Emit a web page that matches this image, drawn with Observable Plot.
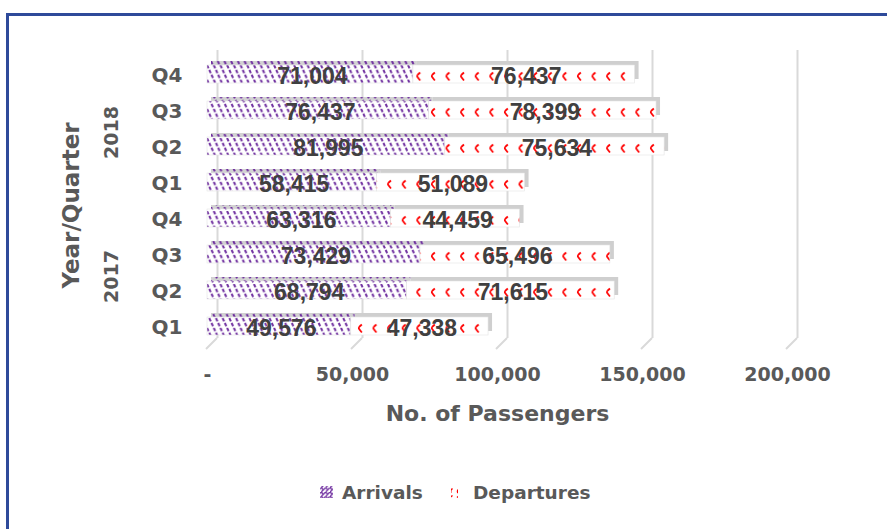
<!DOCTYPE html>
<html><head><meta charset="utf-8">
<script src="https://cdn.jsdelivr.net/npm/d3@7"></script>
<script src="https://cdn.jsdelivr.net/npm/@observablehq/plot@0.6"></script>
<style>
html,body{margin:0;padding:0;background:#fff;overflow:hidden;}
#wrap{position:relative;width:887px;height:529px;overflow:hidden;background:#fff;}
#fl{position:absolute;left:6px;top:13px;width:2.5px;height:516px;background:#2E4A9A;}
#ft{position:absolute;left:6px;top:13px;width:881px;height:2.5px;background:#2E4A9A;}
#chart{position:absolute;left:0;top:0;}
#legend{position:absolute;left:0;top:470px;}
</style></head>
<body><div id="wrap"><div id="fl"></div><div id="ft"></div><div id="chart"></div><div id="legend"></div></div>
<script>
// ---- data ----
const periods = ["2018 Q4","2018 Q3","2018 Q2","2018 Q1","2017 Q4","2017 Q3","2017 Q2","2017 Q1"];
const arrivals   = [71004, 76437, 81995, 58415, 63316, 73429, 68794, 49576];
const departures = [76437, 78399, 75634, 51089, 44459, 65496, 71615, 47338];
const seriesNames = ["Arrivals", "Departures"];
const xTicks = [0, 50000, 100000, 150000, 200000];
const years = [{year: "2018", at: "2018 Q3"}, {year: "2017", at: "2017 Q3"}];
const yTitle = "Year/Quarter";
const xTitle = "No. of Passengers";

const table = [];
periods.forEach((p, i) => {
  table.push({period: p, series: "Arrivals", value: arrivals[i]});
  table.push({period: p, series: "Departures", value: departures[i]});
});

const fmt = d3.format(",");
const grey = "#595959";

const plot = Plot.plot({
  width: 887, height: 460,
  marginLeft: 207, marginRight: 100, marginTop: 56, marginBottom: 116,
  style: {background: "transparent", overflow: "visible"},
  x: {domain: [0, 200000], axis: null},
  y: {domain: periods, axis: null, paddingInner: 0.5, paddingOuter: 0.25},
  color: {
    domain: ["Arrivals", "Departures", "Arrivals top", "Departures top"],
    range: ["url(#pArr)", "url(#pDep)", "url(#sArr)", "url(#sDep)"]
  },
  marks: [
    Plot.ruleX(xTicks, {x: d => d, stroke: "#d9d9d9", strokeWidth: 2, dx: 10, dy: -6}),
    Plot.barX(table, {x: "value", y: "period", fill: d => d.series + " top", dx: 4, dy: -4}),
    Plot.barX(table, {x: "value", y: "period", fill: "series", stroke: "#e3e3e3", strokeWidth: 0.6}),
    Plot.text(table, Plot.stackX({x: "value", y: "period", text: d => fmt(d.value),
      fontSize: 23, fontWeight: "bold", fill: "#404040", fontFamily: "Liberation Sans", dx: 2, dy: 2})),
    Plot.text(periods, {y: d => d, text: d => d.split(" ")[1], frameAnchor: "left", textAnchor: "end",
      dx: -25, dy: 1, fontSize: 20, fontWeight: "bold", fill: grey, fontFamily: "DejaVu Sans"}),
    Plot.text(years, {y: "at", text: "year", frameAnchor: "left", textAnchor: "middle", dx: -96, dy: 22, rotate: -90,
      fontSize: 19, fontWeight: "bold", fill: grey, fontFamily: "DejaVu Sans"}),
    Plot.text([yTitle], {text: d => d, frameAnchor: "left", textAnchor: "middle", dx: -136, dy: 5, rotate: -90,
      fontSize: 23, fontWeight: "bold", fill: grey, fontFamily: "DejaVu Sans"}),
    Plot.text(xTicks, {x: d => d, text: d => d === 0 ? "-" : fmt(d), frameAnchor: "bottom", dy: 36,
      fontSize: 19, fontWeight: "bold", fill: grey, fontFamily: "DejaVu Sans"}),
    Plot.text([xTitle], {text: d => d, frameAnchor: "bottom", dy: 76,
      fontSize: 22, fontWeight: "bold", fill: grey, fontFamily: "DejaVu Sans"})
  ]
});
document.getElementById("chart").appendChild(plot);

// scales for pattern alignment and floor decoration
const xs = plot.scale("x"), ys = plot.scale("y");
const xApply = xs.apply ? v => xs.apply(v) : d3.scaleLinear(xs.domain, xs.range);
const yApply = ys.apply ? v => ys.apply(v) : d3.scaleBand(ys.domain, ys.range).paddingInner(0.5).paddingOuter(0.25);
const x0 = xApply(0);
const bandTop = yApply(periods[0]);
const step = yApply(periods[1]) - bandTop;
const frameBottom = ys.range ? Math.max(...ys.range) : 344;

const svg = d3.select(plot);
const defs = svg.insert("defs", ":first-child");
function stripes(id, bg) {
  const w = 6.7, h = 14.6;
  const p = defs.append("pattern").attr("id", id).attr("patternUnits", "userSpaceOnUse")
    .attr("x", x0).attr("y", bandTop).attr("width", w).attr("height", h);
  p.append("rect").attr("width", w).attr("height", h).attr("fill", bg);
  p.append("path").attr("d", `M0,0L${w},${h}M${-w},0L0,${h}M${w},0L${2*w},${h}`)
    .attr("stroke", "#7030A0").attr("stroke-width", 2).attr("stroke-dasharray", "3.6 1.75").attr("fill", "none");
}
function marks(id, bg, top) {
  const w = 14.6, h = step;
  const p = defs.append("pattern").attr("id", id).attr("patternUnits", "userSpaceOnUse")
    .attr("x", x0 + 4).attr("y", bandTop).attr("width", w).attr("height", h);
  p.append("rect").attr("width", w).attr("height", h).attr("fill", bg);
  if (top) {
    p.append("path").attr("d", `M2,${h - 0.8}L5.5,${h - 3.2}`).attr("stroke", "#FF0000").attr("stroke-width", 1.4).attr("fill", "none");
  } else {
    p.append("path").attr("d", "M4.8,7.5Q1.2,10.5 1.8,11.5Q2.4,12.5 4.8,15.5").attr("stroke", "#FF0000").attr("stroke-width", 1.7).attr("fill", "none");
  }
}
stripes("pArr", "#ffffff");
stripes("sArr", "#d2d2d2");
marks("pDep", "#ffffff", false);
marks("sDep", "#cfcfcf", true);

// 3D floor: short diagonal links from the back wall to the front edge
const floor = svg.insert("g", "g[aria-label='bar']");
xTicks.forEach(v => {
  const xf = xApply(v);
  floor.append("line").attr("x1", xf + 10).attr("y1", frameBottom - 6).attr("x2", xf - 1).attr("y2", frameBottom + 5)
    .attr("stroke", "#d9d9d9").attr("stroke-width", 2);
});

// legend
const lg = d3.select("#legend").append("svg").attr("width", 887).attr("height", 40);
const ld = lg.append("defs");
const la = ld.append("pattern").attr("id", "lArr").attr("patternUnits", "userSpaceOnUse").attr("width", 4.4).attr("height", 4.4);
la.append("rect").attr("width", 4.4).attr("height", 4.4).attr("fill", "#fff");
la.append("path").attr("d", "M0,4.4L4.4,0M0,0L1.6,1.6").attr("stroke", "#7030A0").attr("stroke-width", 1.4);
const lp = ld.append("pattern").attr("id", "lDep").attr("patternUnits", "userSpaceOnUse").attr("width", 7).attr("height", 12);
lp.append("rect").attr("width", 7).attr("height", 12).attr("fill", "#fff");
lp.append("path").attr("d", "M4.5,1.5L2,3.5M4.5,6.5Q1.5,8.5 3,11").attr("stroke", "#FF0000").attr("stroke-width", 1.5).attr("fill", "none");
const legendItems = [
  {name: seriesNames[0], sx: 320, sw: 13, tx: 342, fill: "url(#lArr)"},
  {name: seriesNames[1], sx: 451, sw: 7, tx: 473, fill: "url(#lDep)"}
];
legendItems.forEach(it => {
  lg.append("rect").attr("x", it.sx).attr("y", 16).attr("width", it.sw).attr("height", 12).attr("fill", it.fill);
  lg.append("text").attr("x", it.tx).attr("y", 29).text(it.name)
    .attr("font-family", "DejaVu Sans").attr("font-weight", "bold").attr("font-size", 18.5).attr("fill", grey);
});
</script>
</body></html>
